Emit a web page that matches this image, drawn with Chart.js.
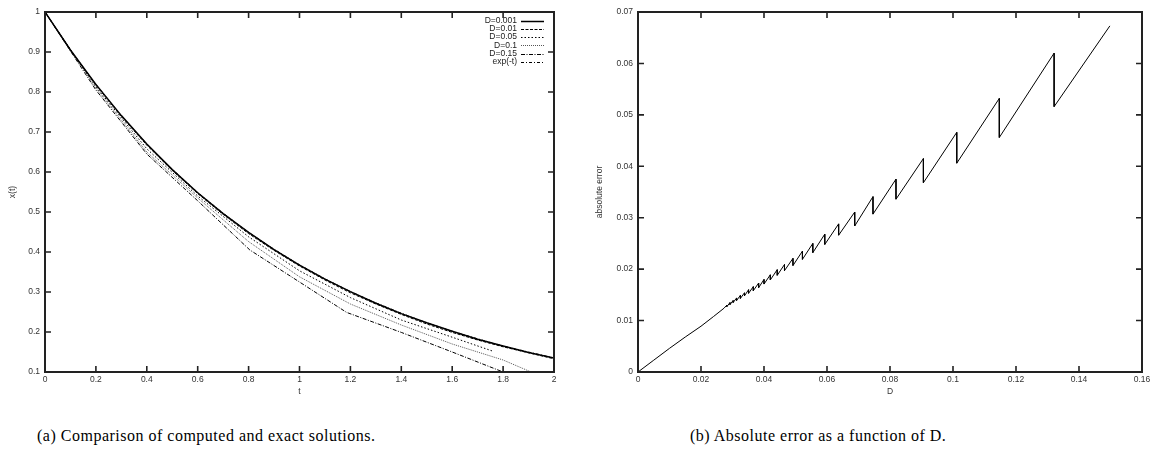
<!DOCTYPE html>
<html>
<head>
<meta charset="utf-8">
<script src="https://cdn.jsdelivr.net/npm/chart.js@4.4.1/dist/chart.umd.min.js"></script>
<style>
  html, body { margin: 0; padding: 0; background: #fff; }
  body { width: 1154px; height: 462px; position: relative; overflow: hidden; }
  .panel { position: absolute; top: 0; width: 577px; height: 400px; }
  .caption { position: absolute; top: 427px; font-family: "Liberation Serif", serif; font-size: 16px; letter-spacing: 0.5px; color: #000; white-space: nowrap; }
</style>
</head>
<body>
<div class="panel" style="left:0"><canvas id="left" width="577" height="400"></canvas></div>
<div class="panel" style="left:577px"><canvas id="right" width="577" height="400"></canvas></div>
<div class="caption" style="left:37px">(a) Comparison of computed and exact solutions.</div>
<div class="caption" style="left:690px">(b) Absolute error as a function of D.</div>
<script>
// (a) x(t)
const tFine = [0, 0.1, 0.2, 0.3, 0.4, 0.5, 0.6, 0.7, 0.8, 0.9, 1.0, 1.1, 1.2, 1.3, 1.4, 1.5, 1.6, 1.7, 1.8, 1.9, 2.0];
const xExp = [1, 0.905, 0.819, 0.741, 0.670, 0.607, 0.549, 0.497, 0.449, 0.407, 0.368, 0.333, 0.301, 0.273, 0.247, 0.223, 0.202, 0.183, 0.165, 0.150, 0.135];
const xD0001 = [1, 0.905, 0.819, 0.741, 0.670, 0.606, 0.548, 0.496, 0.449, 0.406, 0.367, 0.332, 0.301, 0.272, 0.246, 0.223, 0.202, 0.182, 0.165, 0.149, 0.135];
const xD001 = [1, 0.904, 0.817, 0.739, 0.667, 0.604, 0.546, 0.494, 0.446, 0.404, 0.365, 0.330, 0.298, 0.270, 0.244, 0.220, 0.199, 0.180, 0.163, 0.148, 0.133];
const tD005 = [0, 0.2, 0.4, 0.6, 0.8, 1.0, 1.2, 1.4, 1.6, 1.76];
const xD005 = [1, 0.813, 0.658, 0.540, 0.438, 0.353, 0.286, 0.230, 0.187, 0.152];
const tD01 = [0, 0.2, 0.4, 0.6, 0.8, 1.0, 1.2, 1.4, 1.6, 1.8, 1.91];
const xD01 = [1, 0.810, 0.650, 0.535, 0.426, 0.338, 0.270, 0.2175, 0.170, 0.130, 0.100];
const tD015 = [0, 0.2, 0.4, 0.6, 0.805, 1.0, 1.185, 1.4, 1.6, 1.8];
const xD015 = [1, 0.805, 0.645, 0.528, 0.405, 0.325, 0.249, 0.199, 0.150, 0.100];

// (b) absolute error vs D
const smoothD = [0, 0.005, 0.01, 0.015, 0.02, 0.024, 0.0273];
const smoothErr = [0, 0.0023, 0.0046, 0.0068, 0.0089, 0.0108, 0.0124];
const toothD = [0.0282, 0.0292, 0.0302, 0.0313, 0.0325, 0.0338, 0.0351, 0.0366, 0.0383, 0.0400, 0.0420, 0.0442, 0.0465, 0.0492, 0.0522, 0.0555, 0.0593, 0.0637, 0.0688, 0.0746, 0.0819, 0.0906, 0.1012, 0.1147, 0.1321];
const toothTop = [0.0130, 0.0135, 0.0139, 0.0144, 0.0149, 0.0154, 0.0160, 0.0166, 0.0173, 0.0180, 0.0189, 0.0199, 0.0209, 0.0221, 0.0235, 0.0250, 0.0268, 0.0288, 0.0311, 0.0341, 0.0375, 0.0415, 0.0466, 0.0532, 0.0620];
const toothBottom = [0.0127, 0.0131, 0.0135, 0.0139, 0.0143, 0.0148, 0.0153, 0.0158, 0.0164, 0.0171, 0.0179, 0.0188, 0.0197, 0.0207, 0.0219, 0.0232, 0.0248, 0.0266, 0.0284, 0.0307, 0.0336, 0.0368, 0.0406, 0.0456, 0.0516];
const endD = [0.1498];
const endErr = [0.0673];

const zip = (xs, ys) => xs.map((x, i) => ({x: x, y: ys[i]}));

const errPoints = zip(smoothD, smoothErr);
toothD.forEach((d, i) => {
  errPoints.push({x: d, y: toothTop[i]});
  errPoints.push({x: d, y: toothBottom[i]});
});
errPoints.push(...zip(endD, endErr));

const tickFont = {family: '"Liberation Sans", Arial, sans-serif', size: 8.5};
const tickColor = '#333';
const fmt = v => String(+v.toFixed(4));

// gnuplot style box with inward ticks on all four sides
const frame = {
  id: 'frame',
  afterDatasetsDraw(chart) {
    const {ctx, chartArea: a, scales} = chart;
    const len = 6;
    ctx.save();
    ctx.strokeStyle = '#222';
    ctx.lineWidth = 1.6;
    ctx.beginPath();
    scales.x.ticks.forEach(t => {
      const px = scales.x.getPixelForValue(t.value);
      ctx.moveTo(px, a.bottom); ctx.lineTo(px, a.bottom - len);
      ctx.moveTo(px, a.top); ctx.lineTo(px, a.top + len);
    });
    scales.y.ticks.forEach(t => {
      const py = scales.y.getPixelForValue(t.value);
      ctx.moveTo(a.left, py); ctx.lineTo(a.left + len, py);
      ctx.moveTo(a.right, py); ctx.lineTo(a.right - len, py);
    });
    ctx.stroke();
    ctx.lineWidth = 2;
    ctx.strokeRect(a.left, a.top, a.right - a.left, a.bottom - a.top);
    ctx.restore();
  }
};

// key in the top right corner: text right aligned, line sample after it
const key = {
  id: 'key',
  afterDraw(chart, args, opts) {
    if (!opts.show) return;
    const ctx = chart.ctx;
    ctx.save();
    ctx.font = '8.5px "Liberation Sans", Arial, sans-serif';
    ctx.fillStyle = '#222';
    ctx.textAlign = 'right';
    ctx.textBaseline = 'middle';
    chart.data.datasets.forEach((ds, i) => {
      const y = opts.y + i * opts.row;
      ctx.fillText(ds.label, opts.textRight, y);
      ctx.strokeStyle = ds.borderColor;
      ctx.lineWidth = ds.borderWidth;
      ctx.setLineDash(ds.borderDash || []);
      ctx.beginPath();
      ctx.moveTo(opts.lineFrom, Math.round(y) + 0.5);
      ctx.lineTo(opts.lineTo, Math.round(y) + 0.5);
      ctx.stroke();
    });
    ctx.restore();
  }
};

function axes(xr, yr, xTitle, yTitle, yWidth, yTitlePad) {
  return {
    x: {
      type: 'linear', min: xr[0], max: xr[1],
      afterFit: s => { s.height = 28; },
      grid: {display: false, drawTicks: false}, border: {display: false},
      ticks: {stepSize: xr[2], font: tickFont, color: tickColor, padding: 3, maxRotation: 0, callback: fmt},
      title: {display: true, text: xTitle, font: tickFont, color: tickColor, padding: {top: 0, bottom: 3}}
    },
    y: {
      type: 'linear', min: yr[0], max: yr[1],
      afterFit: s => { s.width = yWidth; },
      grid: {display: false, drawTicks: false}, border: {display: false},
      ticks: {stepSize: yr[2], font: tickFont, color: tickColor, padding: 5, callback: fmt},
      title: {display: true, text: yTitle, font: tickFont, color: tickColor, padding: {top: yTitlePad, bottom: 0}}
    }
  };
}

function line(label, pts, dash, width, color) {
  return {label: label, data: pts, borderColor: color || '#000', borderWidth: width, borderDash: dash,
          pointRadius: 0, fill: false, tension: 0};
}

new Chart(document.getElementById('left'), {
  type: 'line',
  data: {
    datasets: [
      line('D=0.001', zip(tFine, xD0001), [], 1.5),
      line('D=0.01', zip(tFine, xD001), [3, 1.5], 1),
      line('D=0.05', zip(tD005, xD005), [1.5, 2], 1),
      line('D=0.1', zip(tD01, xD01), [1, 1], 1, '#555'),
      line('D=0.15', zip(tD015, xD015), [4, 1.5, 1, 1.5], 1),
      line('exp(-t)', zip(tFine, xExp), [3, 2, 1, 2], 1)
    ]
  },
  options: {
    responsive: false, animation: false, devicePixelRatio: 1,
    layout: {padding: {top: 12, right: 23, bottom: 0, left: 0}},
    plugins: {
      legend: {display: false}, tooltip: {enabled: false},
      key: {show: true, textRight: 517, lineFrom: 521, lineTo: 544, y: 20.7, row: 8.2}
    },
    scales: axes([0, 2, 0.2], [0.1, 1, 0.1], 't', 'x(t)', 45, 7.6)
  },
  plugins: [frame, key]
});

new Chart(document.getElementById('right'), {
  type: 'line',
  data: {
    datasets: [line('absolute error', errPoints, [], 1)]
  },
  options: {
    responsive: false, animation: false, devicePixelRatio: 1,
    layout: {padding: {top: 12, right: 12, bottom: 0, left: 0}},
    plugins: {legend: {display: false}, tooltip: {enabled: false}, key: {show: false}},
    scales: axes([0, 0.16, 0.02], [0, 0.07, 0.01], 'D', 'absolute error', 61, 17.6)
  },
  plugins: [frame, key]
});
</script>
</body>
</html>
